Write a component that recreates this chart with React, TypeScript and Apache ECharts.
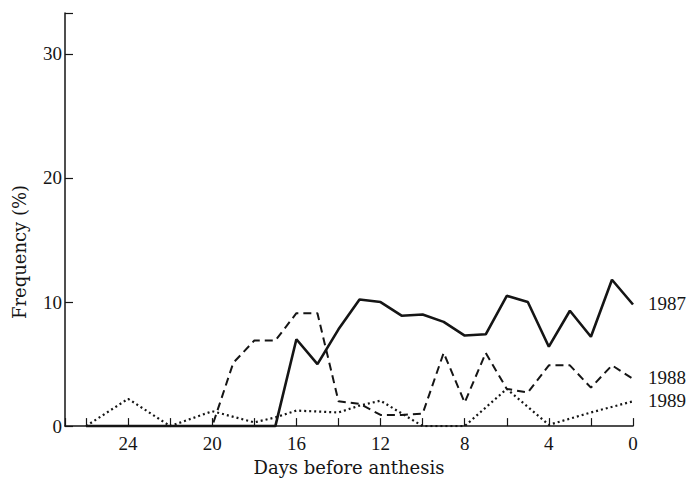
import React, { useEffect, useRef } from "react";
import * as echarts from "echarts";

const days1987 = [26, 17, 16, 15, 14, 13, 12, 11, 10, 9, 8, 7, 6, 5, 4, 3, 2, 1, 0];
const vals1987 = [0, 0, 7, 5, 7.8, 10.2, 10, 8.9, 9, 8.4, 7.3, 7.4, 10.5, 10, 6.4, 9.3, 7.2, 11.8, 9.8];

const days1988 = [26, 20, 19, 18, 17, 16, 15, 14, 13, 12, 11, 10, 9, 8, 7, 6, 5, 4, 3, 2, 1, 0];
const vals1988 = [0, 0, 5.1, 6.9, 6.9, 9.1, 9.1, 2, 1.8, 0.9, 0.9, 1, 5.9, 1.9, 5.9, 3, 2.7, 4.9, 4.9, 3.1, 4.9, 3.8];

const days1989 = [26, 24, 22, 20, 18, 17, 16, 14, 13, 12, 10, 8, 6, 4, 2, 0];
const vals1989 = [0, 2.2, 0, 1.2, 0.3, 0.7, 1.25, 1.1, 1.65, 2.05, 0, 0, 3, 0.1, 1.1, 2];

const seriesNames = ["1987", "1988", "1989"];
const yTicks = [0, 10, 20, 30];
const xTickLabels = [0, 4, 8, 12, 16, 20, 24];

const NUMFONT = "Liberation Serif, Times New Roman, serif";
const WORDFONT = "DejaVu Serif, serif";
const INK = "#151515";

function pairs(xs: number[], ys: number[]) {
  return xs.map((x, i) => [x, ys[i]]);
}

export default function App() {
  const ref = useRef<HTMLDivElement>(null);
  useEffect(() => {
    document.body.style.margin = "0";
    if (!ref.current) return;
    const chart = echarts.init(ref.current, undefined, { renderer: "svg" });
    const allData = [
      pairs(days1987, vals1987),
      pairs(days1988, vals1988),
      pairs(days1989, vals1989),
    ];
    chart.setOption({
      animation: false,
      backgroundColor: "#ffffff",
      grid: { left: 65, right: 56, top: 13, bottom: 52 },
      xAxis: {
        type: "value",
        inverse: true,
        min: 0,
        max: 27,
        interval: 2,
        name: "Days before anthesis",
        nameLocation: "middle",
        nameGap: 28,
        nameTextStyle: { fontSize: 18, fontFamily: WORDFONT, color: INK },
        axisLine: { show: true, onZero: false, lineStyle: { color: INK, width: 1.5 } },
        axisTick: { show: true, inside: true, length: 8, lineStyle: { color: INK, width: 1.2 } },
        axisLabel: {
          margin: 8,
          fontSize: 19,
          fontFamily: NUMFONT,
          color: INK,
          formatter: (v: number) => (xTickLabels.indexOf(v) >= 0 ? String(v) : ""),
        },
        splitLine: { show: false },
      },
      yAxis: {
        type: "value",
        position: "left",
        min: 0,
        max: 33.3,
        interval: 10,
        axisLine: { show: true, onZero: false, lineStyle: { color: INK, width: 1.5 } },
        axisTick: { show: true, inside: true, length: 8, lineStyle: { color: INK, width: 1.2 } },
        axisLabel: {
          margin: 3,
          fontSize: 19,
          fontFamily: NUMFONT,
          color: INK,
          formatter: (v: number) => (yTicks.indexOf(v) >= 0 ? String(v) : ""),
        },
        splitLine: { show: false },
      },
      series: [
        {
          name: seriesNames[2],
          type: "line",
          showSymbol: false,
          data: allData[2],
          lineStyle: { color: INK, width: 2.2, type: [2, 3] },
          z: 2,
        },
        {
          name: seriesNames[1],
          type: "line",
          showSymbol: false,
          data: allData[1],
          lineStyle: { color: INK, width: 2, type: [8, 5] },
          z: 3,
        },
        {
          name: seriesNames[0],
          type: "line",
          showSymbol: false,
          data: allData[0],
          lineStyle: { color: INK, width: 2.6, type: "solid" },
          z: 4,
        },
      ],
    });

    const graphics: any[] = [
      {
        type: "text",
        x: 19,
        y: 252,
        rotation: Math.PI / 2,
        style: {
          text: "Frequency (%)",
          fontSize: 18,
          fontFamily: WORDFONT,
          fill: INK,
          align: "center",
          verticalAlign: "middle",
        },
      },
    ];
    allData.forEach((d, i) => {
      const last = d[d.length - 1];
      const p = chart.convertToPixel({ gridIndex: 0 }, last) as number[];
      graphics.push({
        type: "text",
        x: p[0] + 15,
        y: p[1] - 1,
        style: {
          text: seriesNames[i],
          fontSize: 19,
          fontFamily: NUMFONT,
          fill: INK,
          align: "left",
          verticalAlign: "middle",
        },
      });
    });
    chart.setOption({ graphic: graphics });
    return () => chart.dispose();
  }, []);
  return <div ref={ref} style={{ width: 689, height: 481 }} />;
}
